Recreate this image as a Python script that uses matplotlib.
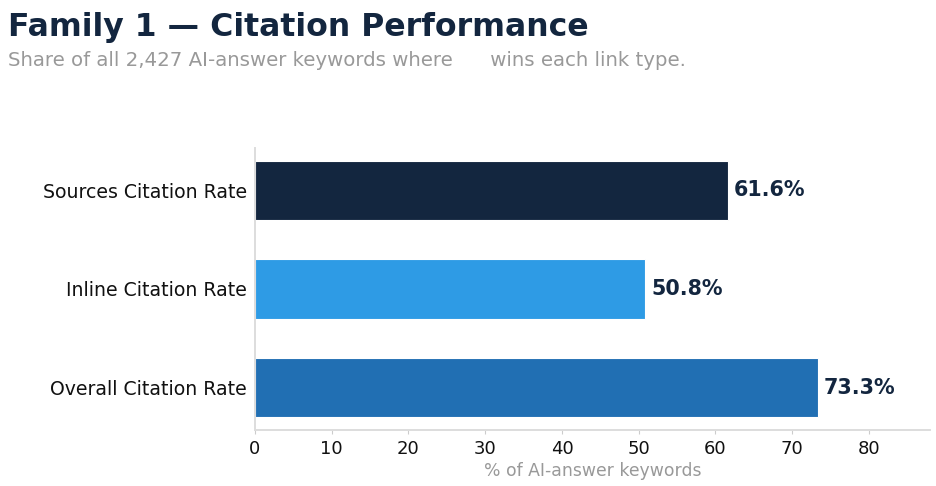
import matplotlib
matplotlib.use("Agg")
import matplotlib.pyplot as plt

plt.rcParams["font.family"] = ["DejaVu Sans"]

# chart data
categories = ["Sources Citation Rate", "Inline Citation Rate", "Overall Citation Rate"]
values = [61.6, 50.8, 73.3]
colors = ["#13263f", "#2e9be5", "#216fb3"]

title = "Family 1 \u2014 Citation Performance"
subtitle = "Share of all 2,427 AI-answer keywords where      wins each link type."
xlabel = "% of AI-answer keywords"

navy = "#13263f"
grey = "#999999"

fig = plt.figure(figsize=(9.36, 4.86), dpi=100)
ax = fig.add_axes([0.2724, 0.1152, 0.7212, 0.5803])

# top of the list goes at the top of the chart
ypos = list(range(len(categories)))[::-1]
ax.barh(ypos, values, height=0.6, color=colors, edgecolor="white", linewidth=0.8)

for y, v in zip(ypos, values):
    ax.annotate(f"{v:.1f}%", (v, y), xytext=(4.5, 0), textcoords="offset points",
                va="center", ha="left", fontsize=14.9, fontweight="bold", color=navy)

ax.set_yticks(ypos)
ax.set_yticklabels(categories, fontsize=13.6, color="#111111")
ax.set_xlim(0, max(values) * 1.2)
ax.set_xticks(range(0, 90, 10))
ax.tick_params(axis="x", labelsize=13, colors="#111111", length=3, color="#cccccc", pad=4)
ax.tick_params(axis="y", length=0, pad=6)
ax.set_xlabel(xlabel, fontsize=12.4, color=grey, labelpad=3)

for side in ["top", "right"]:
    ax.spines[side].set_visible(False)
for side in ["left", "bottom"]:
    ax.spines[side].set_color("#dddddd")
    ax.spines[side].set_linewidth(1.4)

fig.text(0.0085, 0.926, title, fontsize=22.7, fontweight="bold", color=navy,
         ha="left", va="baseline")
fig.text(0.0085, 0.864, subtitle, fontsize=14.2, color=grey, ha="left", va="baseline")

fig.savefig("out.png", dpi=100)
